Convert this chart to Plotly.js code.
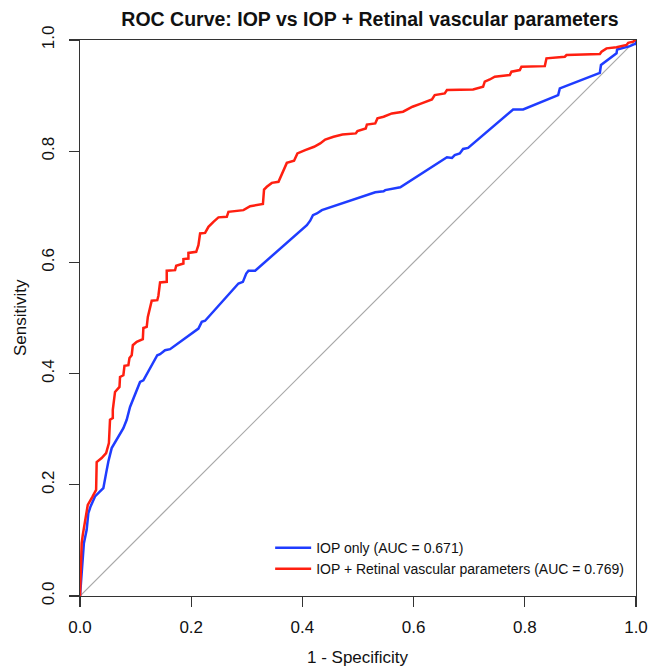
<!DOCTYPE html>
<html>
<head>
<meta charset="utf-8">
<script src="https://cdn.plot.ly/plotly-3.0.1.min.js"></script>
<style>html,body{margin:0;padding:0;background:#fff;}#chart{width:648px;height:667px;}</style>
</head>
<body>
<div id="chart"></div>
<script>
// IOP only ROC curve (1 - specificity, sensitivity)
const iopFpr = [0, 0.003, 0.005, 0.007, 0.012, 0.015, 0.019, 0.027, 0.036, 0.042, 0.047, 0.051, 0.057, 0.066, 0.078, 0.084, 0.090, 0.108, 0.114, 0.139, 0.144, 0.153, 0.162, 0.213, 0.219, 0.225, 0.285, 0.293, 0.299, 0.303, 0.315, 0.408, 0.414, 0.419, 0.426, 0.435, 0.531, 0.546, 0.549, 0.576, 0.660, 0.669, 0.674, 0.683, 0.689, 0.698, 0.779, 0.797, 0.860, 0.863, 0.935, 0.937, 0.965, 0.966, 0.989, 0.998, 1.0, 1.0];
const iopTpr = [0, 0.043, 0.083, 0.095, 0.119, 0.149, 0.161, 0.179, 0.188, 0.194, 0.221, 0.242, 0.266, 0.281, 0.302, 0.317, 0.340, 0.385, 0.388, 0.433, 0.435, 0.442, 0.444, 0.481, 0.493, 0.495, 0.562, 0.565, 0.580, 0.585, 0.585, 0.667, 0.675, 0.685, 0.688, 0.694, 0.726, 0.728, 0.730, 0.735, 0.789, 0.788, 0.793, 0.796, 0.804, 0.806, 0.875, 0.875, 0.901, 0.913, 0.941, 0.955, 0.976, 0.983, 0.989, 0.993, 0.993, 1.0];

// IOP + Retinal vascular parameters ROC curve
const comboFpr = [0, 0.003, 0.005, 0.011, 0.014, 0.022, 0.029, 0.030, 0.039, 0.047, 0.052, 0.054, 0.059, 0.059, 0.063, 0.071, 0.072, 0.078, 0.080, 0.087, 0.089, 0.093, 0.095, 0.102, 0.113, 0.114, 0.120, 0.122, 0.126, 0.129, 0.139, 0.141, 0.144, 0.156, 0.156, 0.171, 0.173, 0.186, 0.186, 0.195, 0.195, 0.209, 0.213, 0.216, 0.225, 0.231, 0.240, 0.249, 0.264, 0.267, 0.294, 0.306, 0.329, 0.331, 0.336, 0.345, 0.357, 0.361, 0.366, 0.372, 0.385, 0.391, 0.405, 0.421, 0.432, 0.441, 0.456, 0.472, 0.496, 0.499, 0.514, 0.516, 0.531, 0.535, 0.546, 0.561, 0.581, 0.598, 0.612, 0.624, 0.633, 0.638, 0.656, 0.660, 0.707, 0.725, 0.728, 0.737, 0.746, 0.773, 0.776, 0.791, 0.794, 0.836, 0.839, 0.872, 0.875, 0.935, 0.938, 0.947, 0.965, 0.983, 0.986, 0.995, 0.998, 1.0];
const comboTpr = [0, 0.095, 0.110, 0.147, 0.164, 0.178, 0.191, 0.241, 0.248, 0.257, 0.275, 0.317, 0.320, 0.335, 0.367, 0.376, 0.394, 0.397, 0.414, 0.415, 0.428, 0.433, 0.451, 0.457, 0.462, 0.482, 0.484, 0.502, 0.516, 0.531, 0.532, 0.540, 0.564, 0.565, 0.585, 0.586, 0.594, 0.598, 0.606, 0.607, 0.617, 0.619, 0.631, 0.652, 0.653, 0.664, 0.673, 0.681, 0.682, 0.691, 0.694, 0.701, 0.705, 0.731, 0.736, 0.743, 0.745, 0.754, 0.766, 0.779, 0.783, 0.796, 0.802, 0.808, 0.814, 0.821, 0.826, 0.830, 0.832, 0.836, 0.841, 0.848, 0.850, 0.859, 0.862, 0.868, 0.871, 0.880, 0.885, 0.889, 0.893, 0.901, 0.904, 0.910, 0.911, 0.916, 0.925, 0.929, 0.934, 0.937, 0.943, 0.946, 0.952, 0.953, 0.967, 0.970, 0.973, 0.975, 0.979, 0.985, 0.987, 0.991, 0.995, 0.997, 1.0, 1.0];

// chance line
const chanceX = [0, 1];
const chanceY = [0, 1];

const tickVals = [0, 0.2, 0.4, 0.6, 0.8, 1.0];
const tickText = ['0.0', '0.2', '0.4', '0.6', '0.8', '1.0'];

const seriesNames = ['IOP only (AUC = 0.671)', 'IOP + Retinal vascular parameters (AUC = 0.769)'];
const titleText = 'ROC Curve: IOP vs IOP + Retinal vascular parameters';
const xTitle = '1 - Specificity';
const yTitle = 'Sensitivity';

const FONT = 'Liberation Sans, Arial, Helvetica, sans-serif';

const traces = [
  {x: chanceX, y: chanceY, type: 'scatter', mode: 'lines', line: {color: '#a8a8a8', width: 1.2}, showlegend: false, hoverinfo: 'skip'},
  {x: iopFpr, y: iopTpr, type: 'scatter', mode: 'lines', name: seriesNames[0], line: {color: '#1f3cff', width: 2.5}},
  {x: comboFpr, y: comboTpr, type: 'scatter', mode: 'lines', name: seriesNames[1], line: {color: '#ff1f10', width: 2.5}}
];

const axisCommon = {
  range: [0, 1],
  tickvals: tickVals,
  ticktext: tickText,
  showgrid: false,
  zeroline: false,
  showline: true,
  mirror: true,
  linecolor: '#333',
  linewidth: 1.2,
  ticks: 'outside',
  ticklen: 10,
  tickwidth: 1.2,
  tickcolor: '#333',
  tickfont: {family: FONT, size: 17, color: '#111'},
  fixedrange: true
};

const layout = {
  width: 648,
  height: 667,
  margin: {l: 80, r: 12, t: 40, b: 71},
  paper_bgcolor: '#fff',
  plot_bgcolor: '#fff',
  font: {family: FONT, color: '#111'},
  title: {text: '<b>' + titleText + '</b>', font: {family: FONT, size: 19.5, color: '#111'}, x: 0.5216, xref: 'paper', xanchor: 'center', y: 0.972, yref: 'container', yanchor: 'middle'},
  xaxis: Object.assign({}, axisCommon, {ticklabelstandoff: 5}),
  yaxis: Object.assign({}, axisCommon, {tickangle: -90, ticklabelstandoff: 8}),
  showlegend: true,
  legend: {
    x: 0.342, y: 0.115, xanchor: 'left', yanchor: 'top',
    bgcolor: 'rgba(0,0,0,0)', borderwidth: 0,
    font: {family: FONT, size: 14, color: '#111'},
    itemwidth: 36, tracegroupgap: 0
  },
  annotations: [
    {text: xTitle, xref: 'paper', yref: 'paper', x: 0.5, y: 0, yshift: -61, xanchor: 'center', yanchor: 'middle', showarrow: false, font: {family: FONT, size: 17, color: '#111'}},
    {text: yTitle, xref: 'paper', yref: 'paper', x: 0, y: 0.5, xshift: -60, xanchor: 'center', yanchor: 'middle', textangle: -90, showarrow: false, font: {family: FONT, size: 17, color: '#111'}}
  ]
};

Plotly.newPlot('chart', traces, layout, {staticPlot: true, displayModeBar: false});
</script>
</body>
</html>
